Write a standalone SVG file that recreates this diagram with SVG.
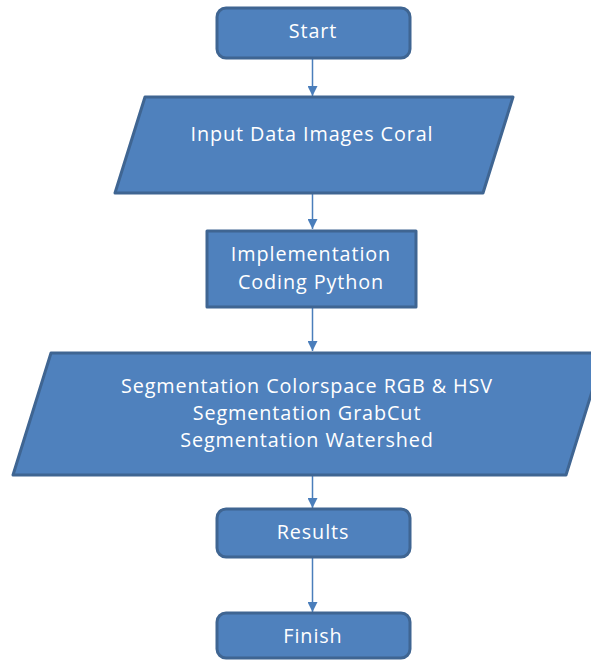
<svg xmlns="http://www.w3.org/2000/svg" width="591" height="660" viewBox="0 0 591 660">
<defs>
<style>
.n{fill:#4F81BD;stroke:#3F6592;stroke-width:3;stroke-linejoin:round}
.t{font-family:"Open Sans","Noto Sans",sans-serif;font-size:19.8px;letter-spacing:0.9px;fill:#FFFFFF;text-anchor:middle}
.c{stroke:#4A7EBB;stroke-width:1.5;fill:none}
</style>
<marker id="ah" viewBox="0 0 10 10" refX="10" refY="5" markerWidth="10" markerHeight="10" markerUnits="userSpaceOnUse" orient="auto">
<path d="M0,0L10,5L0,10z" fill="#4A7EBB"/>
</marker>
</defs>
<rect width="591" height="660" fill="#FFFFFF"/>
<g id="connectors">
<line class="c" x1="312.5" y1="58" x2="312.5" y2="96" marker-end="url(#ah)"/>
<line class="c" x1="312.5" y1="194" x2="312.5" y2="229" marker-end="url(#ah)"/>
<line class="c" x1="312.5" y1="307" x2="312.5" y2="351" marker-end="url(#ah)"/>
<line class="c" x1="312.5" y1="476" x2="312.5" y2="508" marker-end="url(#ah)"/>
<line class="c" x1="312.5" y1="557" x2="312.5" y2="612" marker-end="url(#ah)"/>
</g>
<g id="start">
<rect class="n" x="217" y="8" width="193" height="50" rx="9"/>
<text class="t" x="313" y="38">Start</text>
</g>
<g id="input">
<polygon class="n" points="145,97 513,97 483,193 115,193"/>
<text class="t" x="312" y="141">Input Data Images Coral</text>
</g>
<g id="implementation">
<rect class="n" x="207" y="231" width="209" height="76"/>
<text class="t" x="311" y="261">Implementation</text>
<text class="t" x="311" y="289">Coding Python</text>
</g>
<g id="segmentation">
<polygon class="n" points="51,353 604,353 566,475 13,475"/>
<text class="t" x="307" y="393">Segmentation Colorspace RGB &amp; HSV</text>
<text class="t" x="307" y="420">Segmentation GrabCut</text>
<text class="t" x="307" y="447">Segmentation Watershed</text>
</g>
<g id="results">
<rect class="n" x="217" y="509" width="193" height="48" rx="9"/>
<text class="t" x="313" y="539">Results</text>
</g>
<g id="finish">
<rect class="n" x="217" y="613" width="193" height="45" rx="9"/>
<text class="t" x="313" y="643">Finish</text>
</g>
</svg>
